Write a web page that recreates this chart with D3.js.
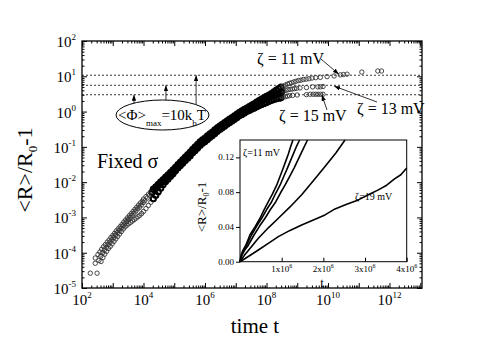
<!DOCTYPE html>
<html>
<head>
<meta charset="utf-8">
<script src="https://cdn.jsdelivr.net/npm/d3@7"></script>
<style>
    body { margin: 0; background: #fff; }
    svg { display: block; font-family: "Liberation Serif", "Times New Roman", serif; }
</style>
</head>
<body>
<div id="chart"></div>
<script>
// main plot: [log10 t, log10(<R>/R0 - 1)]
const zeta11 = [
    [2.27,-4.58],[2.43,-4.15],[2.52,-4.05],[2.58,-3.98],[2.64,-3.90],[2.70,-3.83],[2.76,-3.77],[2.82,-3.70],[2.88,-3.64],[2.94,-3.57],
    [3.00,-3.51],[3.06,-3.45],[3.12,-3.38],[3.18,-3.32],[3.24,-3.26],[3.30,-3.20],[3.36,-3.13],[3.42,-3.07],[3.48,-3.01],[3.54,-2.95],
    [3.60,-2.89],[3.66,-2.83],[3.72,-2.77],[3.78,-2.71],[3.84,-2.65],[3.90,-2.59],[3.96,-2.54],
    [4.00,-2.48],[4.08,-2.41],[4.16,-2.34],[4.24,-2.27],[4.32,-2.20],[4.40,-2.13],[4.48,-2.06],[4.56,-1.99],[4.64,-1.93],[4.72,-1.86],
    [4.80,-1.79],[4.88,-1.72],[4.96,-1.65],[5.04,-1.58],[5.12,-1.50],[5.20,-1.43],[5.28,-1.36],[5.36,-1.29],[5.44,-1.22],[5.52,-1.15],
    [5.60,-1.07],[5.68,-1.00],[5.76,-0.93],[5.84,-0.86],[5.92,-0.80],[6.00,-0.75],[6.08,-0.69],[6.16,-0.63],[6.24,-0.58],[6.32,-0.52],
    [6.40,-0.46],[6.48,-0.41],[6.56,-0.36],[6.64,-0.31],[6.72,-0.26],[6.80,-0.21],[6.88,-0.17],[6.96,-0.12],[7.04,-0.07],[7.12,-0.02],
    [7.20,0.02],[7.28,0.06],[7.36,0.10],[7.44,0.14],[7.52,0.18],[7.60,0.22],[7.68,0.27],[7.76,0.31],[7.84,0.35],[7.92,0.39],
    [8.00,0.43],[8.08,0.47],[8.16,0.51],[8.24,0.56],[8.32,0.61],[8.40,0.65],
    [8.47,0.69],[8.54,0.72],[8.61,0.75],[8.68,0.78],[8.75,0.80],[8.82,0.82],[8.89,0.84],[8.96,0.86],[9.04,0.88],[9.12,0.89],
    [9.20,0.91],[9.29,0.92],[9.38,0.93],[9.48,0.95],[9.60,0.96],[9.75,0.97],[9.97,0.99],[10.20,1.01],[10.40,1.04],[10.50,1.05],
    [10.62,1.06],[11.10,1.12],[11.62,1.15],[11.74,1.15]
];
const zeta13 = [
    [2.49,-4.58],[2.43,-4.30],[2.55,-4.22],[2.61,-4.10],[2.67,-4.00],[2.73,-3.92],[2.79,-3.85],[2.85,-3.77],[2.91,-3.70],[2.97,-3.63],
    [3.03,-3.57],[3.09,-3.50],[3.15,-3.43],[3.21,-3.37],[3.27,-3.31],[3.33,-3.24],[3.39,-3.18],[3.45,-3.12],[3.51,-3.06],[3.57,-3.00],
    [3.63,-2.94],[3.69,-2.88],[3.75,-2.82],[3.81,-2.76],[3.87,-2.71],[3.93,-2.65],[3.99,-2.58],
    [4.04,-2.53],[4.12,-2.45],[4.20,-2.37],[4.28,-2.29],[4.36,-2.22],[4.44,-2.15],[4.52,-2.08],[4.60,-2.00],[4.68,-1.94],[4.76,-1.87],
    [4.84,-1.80],[4.92,-1.73],[5.00,-1.66],[5.08,-1.58],[5.16,-1.51],[5.24,-1.44],[5.32,-1.37],[5.40,-1.30],[5.48,-1.23],[5.56,-1.15],
    [5.64,-1.08],[5.72,-1.01],[5.80,-0.94],[5.88,-0.87],[5.96,-0.82],[6.04,-0.76],[6.12,-0.70],[6.20,-0.65],[6.28,-0.59],[6.36,-0.53],
    [6.44,-0.48],[6.52,-0.43],[6.60,-0.38],[6.68,-0.33],[6.76,-0.28],[6.84,-0.23],[6.92,-0.19],[7.00,-0.14],[7.08,-0.09],[7.16,-0.04],
    [7.24,0.00],[7.32,0.04],[7.40,0.08],[7.48,0.11],[7.56,0.15],[7.64,0.20],[7.72,0.24],[7.80,0.28],[7.88,0.31],[7.96,0.35],
    [8.04,0.38],[8.12,0.42],[8.20,0.45],[8.28,0.48],[8.36,0.51],[8.42,0.54],
    [8.49,0.56],[8.56,0.58],[8.63,0.60],[8.70,0.62],[8.77,0.63],[8.84,0.64],[8.91,0.65],[8.98,0.66],[9.09,0.67],[9.30,0.68],
    [9.50,0.70],[9.67,0.70],[9.75,0.70],[9.84,0.71]
];
const zeta15 = [
    [2.62,-4.25],[2.68,-4.14],[2.74,-4.04],[2.80,-3.96],[2.86,-3.88],[2.92,-3.82],[2.98,-3.75],[3.04,-3.68],[3.10,-3.61],[3.16,-3.54],
    [3.22,-3.47],[3.28,-3.40],[3.34,-3.33],[3.40,-3.27],[3.46,-3.22],[3.52,-3.18],[3.58,-3.14],[3.64,-3.10],[3.70,-3.06],[3.76,-3.02],
    [3.82,-2.98],[3.88,-2.94],[3.94,-2.89],
    [4.00,-2.83],[4.08,-2.75],[4.16,-2.66],[4.24,-2.57],[4.32,-2.47],[4.40,-2.37],[4.48,-2.27],[4.56,-2.17],[4.64,-2.07],[4.72,-1.98],
    [4.80,-1.91],[4.88,-1.83],[4.96,-1.76],[5.04,-1.68],[5.12,-1.60],[5.20,-1.53],[5.28,-1.46],[5.36,-1.39],[5.44,-1.32],[5.52,-1.25],
    [5.60,-1.17],[5.68,-1.10],[5.76,-1.03],[5.84,-0.96],[5.92,-0.90],[6.00,-0.85],[6.08,-0.79],[6.16,-0.73],[6.24,-0.68],[6.32,-0.62],
    [6.40,-0.56],[6.48,-0.51],[6.56,-0.46],[6.64,-0.41],[6.72,-0.36],[6.80,-0.31],[6.88,-0.27],[6.96,-0.22],[7.04,-0.17],[7.12,-0.12],
    [7.20,-0.08],[7.28,-0.04],[7.36,0.00],[7.44,0.03],[7.52,0.07],[7.60,0.10],[7.68,0.14],[7.76,0.17],[7.84,0.20],[7.92,0.23],
    [8.00,0.26],[8.08,0.29],[8.16,0.32],[8.24,0.34],[8.32,0.36],[8.40,0.38],
    [8.47,0.39],[8.54,0.41],[8.61,0.42],[8.68,0.44],[8.75,0.45],[8.85,0.46],[9.00,0.47],[9.30,0.48],[9.42,0.49],[9.52,0.49],
    [9.60,0.49],[9.68,0.49],[9.76,0.49],[9.84,0.49]
];

// dashed plateau levels (<R>/R0 - 1) and where (log10 t) the arrow from the ellipse hits each one
const plateauLevels = [10.7, 5.56, 3.0];
const plateauArrowT = [5.71, 4.73, 3.69];

const xTickExps = [2, 4, 6, 8, 10, 12];
const yTickExps = [-5, -4, -3, -2, -1, 0, 1, 2];

// inset: [t / 10^6, <R>/R0 - 1]
const insetZeta11 = [[0,0],[0.03,0.008],[0.07,0.013],[0.14,0.019],[0.24,0.031],[0.36,0.040],[0.48,0.050],[0.58,0.060],[0.68,0.069],
    [0.78,0.078],[0.88,0.088],[0.96,0.098],[1.04,0.108],[1.10,0.116],[1.16,0.124],[1.22,0.133],[1.27,0.140]];
const insetZeta13 = [[0,0],[0.04,0.008],[0.09,0.013],[0.16,0.019],[0.28,0.031],[0.40,0.041],[0.52,0.050],[0.64,0.060],[0.76,0.069],
    [0.86,0.079],[0.96,0.088],[1.05,0.098],[1.14,0.108],[1.21,0.116],[1.28,0.124],[1.35,0.132],[1.43,0.140]];
const insetZeta15 = [[0,0],[0.05,0.008],[0.11,0.013],[0.20,0.019],[0.34,0.031],[0.47,0.041],[0.60,0.050],[0.73,0.060],[0.86,0.069],
    [0.97,0.079],[1.08,0.088],[1.19,0.098],[1.30,0.108],[1.38,0.116],[1.46,0.124],[1.54,0.132],[1.62,0.140]];
const insetZeta17 = [[0,0],[0.1,0.007],[0.2,0.013],[0.44,0.027],[0.68,0.039],[0.92,0.050],[1.2,0.063],[1.48,0.077],[1.76,0.093],
    [2.04,0.1095],[2.3,0.125],[2.52,0.140]];
const insetZeta19 = [[0,0],[0.2,0.006],[0.44,0.0135],[0.68,0.021],[0.92,0.0288],[1.2,0.036],[1.48,0.0423],[1.76,0.048],[2.04,0.0538],
    [2.28,0.0607],[2.56,0.066],[2.84,0.0711],[3.08,0.077],[3.32,0.0826],[3.52,0.088],[3.70,0.095],[3.86,0.100],[4.0,0.1077]];
const insetXTicks = [1, 2, 3, 4];
const insetYTicks = [0, 0.04, 0.08, 0.12];

const width = 490, height = 343;
const marginLeft = 82, marginRight = 68, marginTop = 41, marginBottom = 55;

const svg = d3.select("#chart").append("svg")
    .attr("width", width)
    .attr("height", height)
    .attr("viewBox", [0, 0, width, height]);

const defs = svg.append("defs");
defs.append("marker")
    .attr("id", "head")
    .attr("viewBox", "0 0 8 6")
    .attr("refX", 8).attr("refY", 3)
    .attr("markerWidth", 6).attr("markerHeight", 4.5)
    .attr("markerUnits", "userSpaceOnUse")
    .attr("orient", "auto")
    .append("path").attr("d", "M0,0L8,3L0,6Z").attr("fill", "#000");

const x = d3.scaleLog().domain([1e2, 1.14e13]).range([marginLeft, width - marginRight]);
const y = d3.scaleLog().domain([1e-5, 1e2]).range([height - marginBottom, marginTop]);

// tick values for the log axes
const xMajor = d3.range(2, 14).map(e => Math.pow(10, e));
const xMinor = xMajor.flatMap(v => d3.range(2, 10).map(m => v * m)).filter(v => v <= x.domain()[1]);
const yMajor = d3.range(-5, 3).map(e => Math.pow(10, e));
const yMinor = yMajor.flatMap(v => d3.range(2, 10).map(m => v * m)).filter(v => v <= y.domain()[1]);

const axisStyle = g => g.call(g => g.select(".domain").remove())
    .call(g => g.selectAll(".tick line").attr("stroke", "#000").attr("stroke-width", 1));

svg.append("g").attr("transform", `translate(0,${height - marginBottom})`)
    .call(d3.axisBottom(x).tickValues(xMajor).tickSize(-5).tickFormat("")).call(axisStyle);
svg.append("g").attr("transform", `translate(0,${height - marginBottom})`)
    .call(d3.axisBottom(x).tickValues(xMinor).tickSize(-2.5).tickFormat("")).call(axisStyle);
svg.append("g").attr("transform", `translate(0,${marginTop})`)
    .call(d3.axisTop(x).tickValues(xMajor).tickSize(-5).tickFormat("")).call(axisStyle);
svg.append("g").attr("transform", `translate(0,${marginTop})`)
    .call(d3.axisTop(x).tickValues(xMinor).tickSize(-2.5).tickFormat("")).call(axisStyle);
svg.append("g").attr("transform", `translate(${marginLeft},0)`)
    .call(d3.axisLeft(y).tickValues(yMajor).tickSize(-5).tickFormat("")).call(axisStyle);
svg.append("g").attr("transform", `translate(${marginLeft},0)`)
    .call(d3.axisLeft(y).tickValues(yMinor).tickSize(-2.5).tickFormat("")).call(axisStyle);
svg.append("g").attr("transform", `translate(${width - marginRight},0)`)
    .call(d3.axisRight(y).tickValues(yMajor).tickSize(-5).tickFormat("")).call(axisStyle);
svg.append("g").attr("transform", `translate(${width - marginRight},0)`)
    .call(d3.axisRight(y).tickValues(yMinor).tickSize(-2.5).tickFormat("")).call(axisStyle);

// tick labels with superscripts
const xLabels = svg.append("g").selectAll("text").data(xTickExps).join("text")
    .attr("x", d => x(Math.pow(10, d)))
    .attr("y", height - marginBottom + 17)
    .attr("text-anchor", "middle")
    .attr("font-size", 15);
xLabels.append("tspan").text("10");
xLabels.append("tspan").attr("font-size", 9).attr("dy", -7).text(d => d);

const yLabels = svg.append("g").selectAll("text").data(yTickExps).join("text")
    .attr("x", marginLeft - 6)
    .attr("y", d => y(Math.pow(10, d)) + 6)
    .attr("text-anchor", "end")
    .attr("font-size", 15);
yLabels.append("tspan").text("10");
yLabels.append("tspan").attr("font-size", 9).attr("dy", -7).text(d => d);

// axis titles
const yTitle = svg.append("text")
    .attr("transform", `translate(32,170) rotate(-90)`)
    .attr("text-anchor", "middle")
    .attr("font-size", 22);
yTitle.append("tspan").text("<R>/R");
yTitle.append("tspan").attr("font-size", 13).attr("dy", 5).text("0");
yTitle.append("tspan").attr("dy", -5).text("-1");

svg.append("text")
    .attr("x", (marginLeft + width - marginRight) / 2 + 3)
    .attr("y", 333)
    .attr("text-anchor", "middle")
    .attr("font-size", 21)
    .text("time t");

// dashed plateau lines
svg.append("g").selectAll("line").data(plateauLevels).join("line")
    .attr("x1", marginLeft).attr("x2", width - marginRight)
    .attr("y1", d => y(d)).attr("y2", d => y(d))
    .attr("stroke", "#000").attr("stroke-width", 0.8)
    .attr("stroke-dasharray", "2,2");

// data: open circles; the dense middle of the run prints as a solid band
const dense = d => d[0] > 4.25 && d[0] < 8.5;
[zeta15, zeta13, zeta11].forEach(s => {
    svg.append("g").selectAll("circle").data(s).join("circle")
        .attr("cx", d => x(Math.pow(10, d[0])))
        .attr("cy", d => y(Math.pow(10, d[1])))
        .attr("r", d => dense(d) ? 2.6 : 2.2)
        .attr("fill", "none")
        .attr("stroke", d => dense(d) ? "#000" : "#333")
        .attr("stroke-width", d => dense(d) ? 2 : 0.9);
});

// ellipse annotation
const ell = { cx: 162.5, cy: 115, rx: 46.5, ry: 15 };
svg.append("ellipse")
    .attr("cx", ell.cx).attr("cy", ell.cy).attr("rx", ell.rx).attr("ry", ell.ry)
    .attr("fill", "#fff").attr("stroke", "#000").attr("stroke-width", 1);

const ellText = svg.append("text").attr("x", 118).attr("y", 120).attr("font-size", 15);
ellText.append("tspan").text("<Φ>");
ellText.append("tspan").attr("font-size", 9).attr("dy", 6).text("max");
ellText.append("tspan").attr("dy", -6).text("=10k");
ellText.append("tspan").attr("font-size", 9).attr("dy", 6).text("b");
ellText.append("tspan").attr("dy", -6).text("T");

// vertical arrows from the ellipse up to the three dashed levels
const arrowX = (d, i) => x(Math.pow(10, plateauArrowT[i]));
svg.append("g").selectAll("line").data(plateauLevels).join("line")
    .attr("x1", arrowX)
    .attr("x2", arrowX)
    .attr("y1", (d, i) => {
        const dx = arrowX(d, i) - ell.cx;
        return ell.cy - ell.ry * Math.sqrt(1 - (dx / ell.rx) ** 2);
    })
    .attr("y2", d => y(d))
    .attr("stroke", "#000").attr("stroke-width", 0.8)
    .attr("marker-end", "url(#head)");

svg.append("text").attr("x", 97).attr("y", 168).attr("font-size", 20).text("Fixed σ");

// zeta labels with arrows
const zetaNotes = [
    { text: "ζ = 11 mV", tx: 257, ty: 64, from: [321, 59], to: [10.35, 1.06] },
    { text: "ζ = 13 mV", tx: 357, ty: 114, from: [377, 102], to: [10.2, 0.72] },
    { text: "ζ = 15 mV", tx: 279, ty: 121, from: [327, 110], to: [9.8, 0.47] },
];
zetaNotes.forEach(n => {
    svg.append("text").attr("x", n.tx).attr("y", n.ty).attr("font-size", 16).text(n.text);
    svg.append("line")
        .attr("x1", n.from[0]).attr("y1", n.from[1])
        .attr("x2", x(Math.pow(10, n.to[0]))).attr("y2", y(Math.pow(10, n.to[1])))
        .attr("stroke", "#000").attr("stroke-width", 0.8)
        .attr("marker-end", "url(#head)");
});

// frame
svg.append("rect")
    .attr("x", marginLeft).attr("y", marginTop)
    .attr("width", width - marginLeft - marginRight)
    .attr("height", height - marginTop - marginBottom)
    .attr("fill", "none").attr("stroke", "#000").attr("stroke-width", 1.3);

// ---------- inset ----------
const ix = d3.scaleLinear().domain([0, 4]).range([240, 406.7]);
const iy = d3.scaleLinear().domain([0, 0.14]).range([261.7, 140]);

svg.append("rect")
    .attr("x", ix(0)).attr("y", iy(0.14))
    .attr("width", ix(4) - ix(0)).attr("height", iy(0) - iy(0.14))
    .attr("fill", "#fff").attr("stroke", "#000").attr("stroke-width", 1);

svg.append("g").attr("transform", `translate(0,${iy(0)})`)
    .call(d3.axisBottom(ix).tickValues(insetXTicks).tickSize(-4).tickFormat("")).call(axisStyle);
svg.append("g").attr("transform", `translate(${ix(0)},0)`)
    .call(d3.axisLeft(iy).tickValues(insetYTicks).tickSize(4).tickFormat("")).call(axisStyle);

const ixLabels = svg.append("g").selectAll("text").data(insetXTicks).join("text")
    .attr("x", d => ix(d)).attr("y", iy(0) + 10)
    .attr("text-anchor", "middle").attr("font-size", 9);
ixLabels.append("tspan").text(d => d + "x10");
ixLabels.append("tspan").attr("font-size", 6).attr("dy", -4).text("6");

svg.append("g").selectAll("text").data(insetYTicks).join("text")
    .attr("x", ix(0) - 6).attr("y", d => iy(d) + 3)
    .attr("text-anchor", "end").attr("font-size", 9)
    .text(d => d3.format(".2f")(d));

svg.append("text").attr("x", 322).attr("y", 287).attr("text-anchor", "middle")
    .attr("font-size", 13).text("t");

const iyTitle = svg.append("text")
    .attr("transform", `translate(206,207) rotate(-90)`)
    .attr("text-anchor", "middle").attr("font-size", 13);
iyTitle.append("tspan").text("<R>/R");
iyTitle.append("tspan").attr("font-size", 8).attr("dy", 3).text("0");
iyTitle.append("tspan").attr("dy", -3).text("-1");

const insetLine = d3.line().x(d => ix(d[0])).y(d => iy(d[1]));
[insetZeta11, insetZeta13, insetZeta15, insetZeta17, insetZeta19].forEach(s => {
    svg.append("path")
        .attr("d", insetLine(s))
        .attr("fill", "none").attr("stroke", "#000").attr("stroke-width", 1.6)
        .attr("stroke-linejoin", "round");
});

svg.append("text").attr("x", 243).attr("y", 156).attr("font-size", 10).text("ζ=11 mV");
svg.append("text").attr("x", 355).attr("y", 200).attr("font-size", 10).text("ζ=19 mV");
</script>
</body>
</html>
